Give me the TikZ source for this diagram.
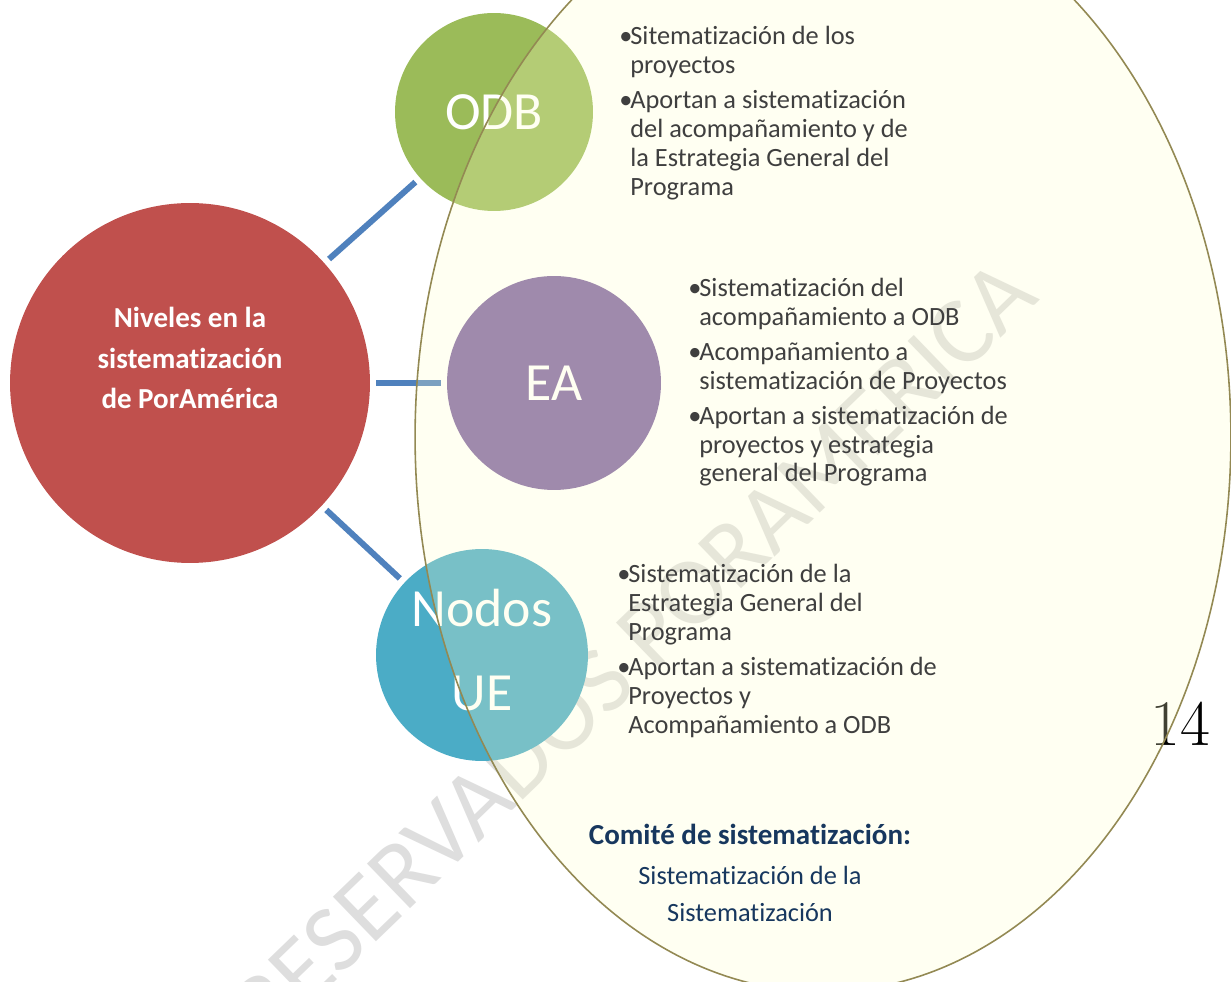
\documentclass[tikz,border=0pt]{standalone}
\usepackage{fontspec}
\usepackage{tikz}
\newfontfamily\carlito[Ligatures={NoCommon}]{Carlito}
\definecolor{nivelred}{HTML}{C0504D}
\definecolor{odbgreen}{HTML}{9BBB59}
\definecolor{eapurple}{HTML}{8064A2}
\definecolor{nodosblue}{HTML}{4BACC6}
\definecolor{linkblue}{HTML}{4F81BD}
\definecolor{cream}{HTML}{FFFFCC}
\definecolor{rimolive}{HTML}{938953}
\definecolor{txtgray}{HTML}{3F3F3F}
\definecolor{comiteblue}{HTML}{17375E}
\definecolor{marcagray}{HTML}{DEDEDE}
\tikzstyle{nivel}=[circle,fill=nivelred,minimum size=7.2cm,inner sep=0pt]
\tikzstyle{level}=[circle,inner sep=0pt,text=white,align=center,font=\carlito\fontsize{30.6}{47.6}\selectfont]
\tikzstyle{link}=[draw=linkblue,line width=3.4pt,shorten <=0.12cm,shorten >=0.12cm]
\tikzstyle{bullets}=[anchor=base west,inner sep=0pt,text=txtgray,font=\carlito\fontsize{15}{16.4}\selectfont]
\tikzstyle{marca}=[anchor=base west,inner sep=0pt,text=marcagray,rotate=44,font=\carlito\fontsize{55}{60}\selectfont]
\newcommand{\bul}{\textbullet}

\begin{document}
\begin{tikzpicture}[x=0.02cm,y=-0.02cm]
    \useasboundingbox (0,0) rectangle (1231,982);
    \fill[white] (0,0) rectangle (1231,982);
    \node[marca] (marca) at (268,1046) {RESERVADOS PORAMERICA};
    \node (pagina) at (1180,724) {\fontsize{37}{40}\selectfont 14};
%   circles
    \node[nivel] (nivel) at (190,383) {};
    \node[level,fill=odbgreen,minimum size=3.96cm] (odb) at (494,112) {ODB};
    \node[level,fill=eapurple,minimum size=4.28cm] (ea) at (554,383) {EA};
    \node[level,fill=nodosblue,minimum size=4.24cm,text depth=0.2cm] (nodos) at (482,655) {Nodos\\UE};
    \node[text=white,align=center,font=\carlito\bfseries\fontsize{16.5}{23.2}\selectfont]
        (niveltxt) at (190,358) {Niveles en la\\sistematización\\de PorAmérica};
    \draw[link] (nivel) -- (odb);
    \draw[link] (nivel) -- (ea);
    \draw[link] (nivel) -- (nodos);
%   comite
    \fill[cream,fill opacity=0.25] (823,437) ellipse [x radius=8.16cm,y radius=11.1cm];
    \draw[rimolive,line width=0.9pt] (823,437) ellipse [x radius=8.16cm,y radius=11.1cm];
    \node[bullets] (odbtxt) at (619,45) {\begin{tabular}[t]{@{}p{0.22cm}@{}l@{}}
        \bul & Sitematización de los\\ & proyectos\\[3.4pt]
        \bul & Aportan a sistematización\\ & del acompañamiento y de\\
             & la Estrategia General del\\ & Programa
        \end{tabular}};
    \node[bullets] (eatxt) at (688,297) {\begin{tabular}[t]{@{}p{0.22cm}@{}l@{}}
        \bul & Sistematización del\\ & acompañamiento a ODB\\[3.4pt]
        \bul & Acompañamiento a\\ & sistematización de Proyectos\\[3.4pt]
        \bul & Aportan a sistematización de\\ & proyectos y estrategia\\
             & general del Programa
        \end{tabular}};
    \node[bullets] (nodostxt) at (617,583) {\begin{tabular}[t]{@{}p{0.22cm}@{}l@{}}
        \bul & Sistematización de la\\ & Estrategia General del\\ & Programa\\[3.4pt]
        \bul & Aportan a sistematización de\\ & Proyectos y\\ & Acompañamiento a ODB
        \end{tabular}};
    \node[anchor=base,inner sep=0pt,text=comiteblue,font=\carlito\fontsize{15}{21}\selectfont]
        (comite) at (750,845) {\begin{tabular}[t]{@{}c@{}}
        {\bfseries\fontsize{16.5}{21}\selectfont Comité de sistematización:}\\[1.7pt]
        Sistematización de la\\ Sistematización
        \end{tabular}};
\end{tikzpicture}
\end{document}
